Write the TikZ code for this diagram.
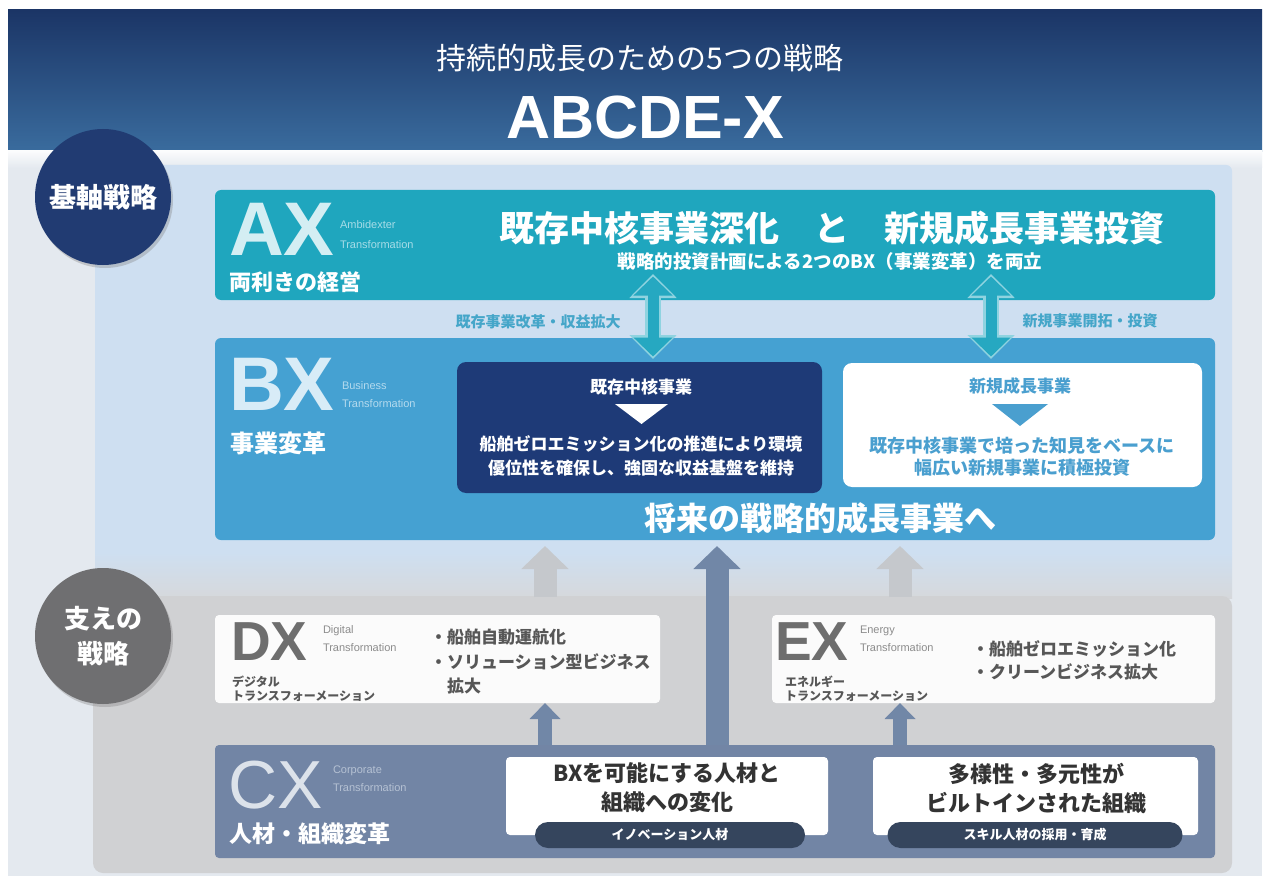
\documentclass[tikz,border=0pt]{standalone}
\usepackage{fontspec}
\setmainfont{Noto Sans CJK JP}
\newfontfamily\lat{Liberation Sans}
\usetikzlibrary{arrows.meta,shadows}
\newcommand\fsz[2]{\fontsize{#1}{#2}\selectfont}
\definecolor{bantop}{HTML}{1B3566}
\definecolor{banbot}{HTML}{3A6C9E}
\definecolor{bgc}{HTML}{E4E9EF}
\definecolor{toppan}{HTML}{CEDFF1}
\definecolor{graypan}{HTML}{D0D1D3}
\definecolor{axc}{HTML}{1FA6BE}
\definecolor{axl}{HTML}{D4EEF3}
\definecolor{axs}{HTML}{A6DCE7}
\definecolor{bxc}{HTML}{45A1D2}
\definecolor{bxl}{HTML}{D8ECF7}
\definecolor{bxs}{HTML}{B4DAEE}
\definecolor{navyc}{HTML}{1E3A77}
\definecolor{bluetx}{HTML}{4A9FCF}
\definecolor{tealarr}{HTML}{26A8C1}
\definecolor{tealedge}{HTML}{8FD3E0}
\definecolor{teallab}{HTML}{45A6C9}
\definecolor{lgarr}{HTML}{C5C8CC}
\definecolor{dgarr}{HTML}{7187A7}
\definecolor{cxc}{HTML}{7285A5}
\definecolor{cxl}{HTML}{DCE2EA}
\definecolor{cxs}{HTML}{B5C1D3}
\definecolor{pillc}{HTML}{35455D}
\definecolor{dxl}{HTML}{6E6E6E}
\definecolor{dxt}{HTML}{575757}
\definecolor{dxs}{HTML}{8C8C8C}
\definecolor{circA}{HTML}{213B72}
\definecolor{circB}{HTML}{6F6F71}
\begin{document}
\begin{tikzpicture}[x=1pt,y=-1pt,
  every node/.style={inner sep=0pt,outer sep=0pt},
  panel/.style={anchor=north west,rounded corners=6pt},
  bigletters/.style={anchor=base west,text depth=0pt,font=\lat\bfseries\fsz{76}{76}},
  engsub/.style={anchor=base west,font=\lat\fsz{11}{11}},
  blockarrow/.style={line width=23pt,-{Triangle[width=46pt,length=23pt]}},
  smallarrow/.style={line width=14pt,-{Triangle[width=30pt,length=16pt]}},
  dbledge/.style={line width=16pt,tealedge,{Triangle[width=46pt,length=24pt]}-{Triangle[width=46pt,length=24pt]}},
  dblarrow/.style={line width=11pt,tealarr,shorten <=2.5pt,shorten >=2.5pt,{Triangle[width=38pt,length=19pt]}-{Triangle[width=38pt,length=19pt]}},
  roundlabel/.style={circle,minimum size=136pt,text=white,align=center,drop shadow={opacity=0.35,shadow xshift=2pt,shadow yshift=-3pt}},
  pill/.style={fill=pillc,rounded corners=13pt,minimum height=26pt,text=white,font=\bfseries\fsz{13}{13}}
]
\useasboundingbox (0,0) rectangle (1270,880);
\fill[white] (0,0) rectangle (1270,880);
% banner and background
\shade[top color=bantop,bottom color=banbot] (8,10) rectangle (1262,152);
\fill[bgc] (8,152) rectangle (1262,876);
\shade[top color=white!85!bgc,bottom color=bgc] (8,151) rectangle (1262,168);
\fill[toppan,rounded corners=6pt] (95,165) rectangle (1232,557);
\shade[top color=toppan,bottom color=graypan!70!bgc] (95,552) rectangle (1232,598);
\fill[graypan,rounded corners=10pt] (93,596) rectangle (1232,873);

% header texts
\node[text=white,font=\fsz{30}{30}] (subttl) at (640,58) {持続的成長のための5つの戦略};
\node[text=white,font=\lat\bfseries\fsz{61}{61}] (ttl) at (645,118) {ABCDE-X};

% AX
\node[panel,fill=axc,minimum width=1000pt,minimum height=110pt] (ax) at (215,190) {};
\node[bigletters,text=axl] (axlet) at (229,255) {AX};
\node[engsub,text=axs] (axe1) at (340,229) {Ambidexter};
\node[engsub,text=axs] (axe2) at (340,248) {Transformation};
\node[anchor=west,text=white,font=\bfseries\fsz{22}{22}] (axjp) at (229,282) {両利きの経営};
\node[text=white,font=\bfseries\fsz{35}{35}] (axttl) at (832,228) {既存中核事業深化　と　新規成長事業投資};
\node[text=white,font=\bfseries\fsz{18.5}{18.5}] (axsub) at (830,261) {戦略的投資計画による2つのBX（事業変革）を両立};

% BX
\node[panel,fill=bxc,minimum width=1000pt,minimum height=202pt] (bx) at (215,338) {};
\node[bigletters,text=bxl] (bxlet) at (229,410) {BX};
\node[engsub,text=bxs] (bxe1) at (342,389) {Business};
\node[engsub,text=bxs] (bxe2) at (342,407) {Transformation};
\node[anchor=west,text=white,font=\bfseries\fsz{24}{24}] (bxjp) at (230,443) {事業変革};

\node[panel,fill=navyc,rounded corners=9pt,minimum width=365pt,minimum height=131pt] (core) at (457,362) {};
\node[text=white,font=\bfseries\fsz{17}{17}] (coret) at (641,387) {既存中核事業};
\fill[white] (615,404) -- (668,404) -- (641.5,424) -- cycle;
\node[text=white,font=\bfseries\fsz{17}{24},align=center] (cored) at (641,456) {船舶ゼロエミッション化の推進により環境\\優位性を確保し、強固な収益基盤を維持};

\node[panel,fill=white,rounded corners=9pt,minimum width=359pt,minimum height=124pt] (newb) at (843,363) {};
\node[text=bluetx,font=\bfseries\fsz{17}{17}] (newt) at (1020,386) {新規成長事業};
\fill[bluetx] (992,404) -- (1048,404) -- (1020,426) -- cycle;
\node[text=bluetx,font=\bfseries\fsz{18}{22},align=center] (newd) at (1022,457) {既存中核事業で培った知見をベースに\\幅広い新規事業に積極投資};

\node[text=white,font=\bfseries\fsz{32}{32}] (future) at (820,518) {将来の戦略的成長事業へ};

% double arrows AX <-> BX
\coordinate (a1t) at (653,274);
\coordinate (a1b) at (653,359);
\coordinate (a2t) at (991,274);
\coordinate (a2b) at (991,359);
\draw[dbledge] (a1t) -- (a1b);
\draw[dblarrow] (a1t) -- (a1b);
\draw[dbledge] (a2t) -- (a2b);
\draw[dblarrow] (a2t) -- (a2b);
\node[text=teallab,font=\bfseries\fsz{15}{15}] (lab1) at (538,322) {既存事業改革・収益拡大};
\node[text=teallab,font=\bfseries\fsz{15}{15}] (lab2) at (1090,321) {新規事業開拓・投資};

% DX
\node[panel,fill=white!97!gray,rounded corners=4pt,minimum width=445pt,minimum height=88pt] (dx) at (215,615) {};
\node[bigletters,text=dxl,font=\lat\bfseries\fsz{55}{55}] (dxlet) at (231,660) {DX};
\node[engsub,text=dxs] (dxe1) at (323,633) {Digital};
\node[engsub,text=dxs] (dxe2) at (323,651) {Transformation};
\node[anchor=base west,text=dxt,font=\bfseries\fsz{12}{12}] (dxj1) at (232,686) {デジタル};
\node[anchor=base west,text=dxt,font=\bfseries\fsz{12}{12}] (dxj2) at (232,700) {トランスフォーメーション};
\node[anchor=base west,text=dxt,font=\bfseries\fsz{17}{17}] (dxb1) at (430,643) {・船舶自動運航化};
\node[anchor=base west,text=dxt,font=\bfseries\fsz{17}{17}] (dxb2) at (430,668) {・ソリューション型ビジネス};
\node[anchor=base west,text=dxt,font=\bfseries\fsz{17}{17}] (dxb3) at (447,692) {拡大};

% EX
\node[panel,fill=white!97!gray,rounded corners=4pt,minimum width=443pt,minimum height=88pt] (ex) at (772,615) {};
\node[bigletters,text=dxl,font=\lat\bfseries\fsz{55}{55}] (exlet) at (775,660) {EX};
\node[engsub,text=dxs] (exe1) at (860,633) {Energy};
\node[engsub,text=dxs] (exe2) at (860,651) {Transformation};
\node[anchor=base west,text=dxt,font=\bfseries\fsz{12}{12}] (exj1) at (785,686) {エネルギー};
\node[anchor=base west,text=dxt,font=\bfseries\fsz{12}{12}] (exj2) at (785,700) {トランスフォーメーション};
\node[anchor=base west,text=dxt,font=\bfseries\fsz{17}{17}] (exb1) at (972,655) {・船舶ゼロエミッション化};
\node[anchor=base west,text=dxt,font=\bfseries\fsz{17}{17}] (exb2) at (972,678) {・クリーンビジネス拡大};

% CX
\node[panel,fill=cxc,rounded corners=4pt,minimum width=1000pt,minimum height=113pt] (cx) at (215,745) {};
\node[bigletters,text=cxl,font=\lat\fsz{68}{68}] (cxlet) at (228,808) {CX};
\node[engsub,text=cxs] (cxe1) at (333,773) {Corporate};
\node[engsub,text=cxs] (cxe2) at (333,791) {Transformation};
\node[anchor=west,text=white,font=\bfseries\fsz{23}{23}] (cxjp) at (229,834) {人材・組織変革};

\node[panel,fill=white,rounded corners=4pt,minimum width=322pt,minimum height=78pt] (cx1) at (506,757) {};
\node[text=black!80,font=\bfseries\fsz{22}{29},align=center] (cx1t) at (667,788) {BXを可能にする人材と\\組織への変化};
\node[pill,minimum width=270pt] (pill1) at (670,835) {イノベーション人材};

\node[panel,fill=white,rounded corners=4pt,minimum width=325pt,minimum height=78pt] (cx2) at (873,757) {};
\node[text=black!80,font=\bfseries\fsz{22}{29},align=center] (cx2t) at (1036,788) {多様性・多元性が\\ビルトインされた組織};
\node[pill,minimum width=295pt] (pill2) at (1035,835) {スキル人材の採用・育成};

% up arrows
\coordinate (u1s) at (545,597);
\coordinate (u1e) at (545,546);
\coordinate (u2s) at (900,597);
\coordinate (u2e) at (900,546);
\coordinate (u3e) at (717,546);
\draw[blockarrow,lgarr] (u1s) -- (u1e);
\draw[blockarrow,lgarr] (u2s) -- (u2e);
\draw[blockarrow,dgarr] (cx.north -| u3e) -- (u3e);
\draw[smallarrow,dgarr] (cx.north -| u1s) -- (dx.south -| u1s);
\draw[smallarrow,dgarr] (cx.north -| u2s) -- (ex.south -| u2s);

% circles
\node[roundlabel,fill=circA,font=\bfseries\fsz{27}{27}] (kijiku) at (103,197) {基軸戦略};
\node[roundlabel,fill=circB,font=\bfseries\fsz{26}{35}] (sasae) at (103,636) {支えの\\戦略};
\end{tikzpicture}
\end{document}
